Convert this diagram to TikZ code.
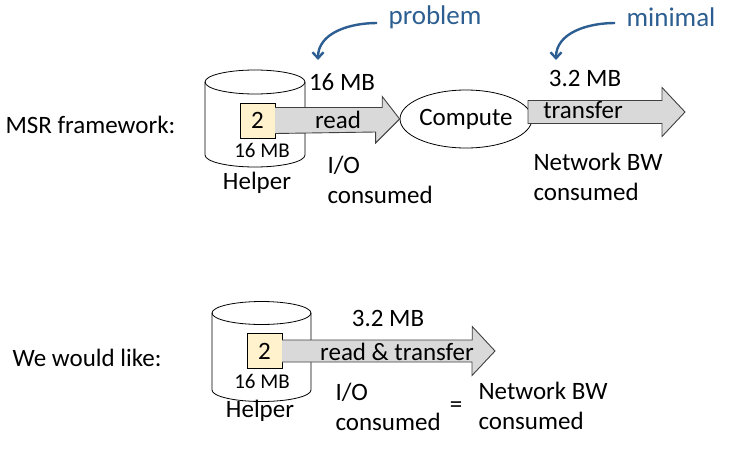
\documentclass[tikz,border=0pt]{standalone}
\usepackage{fontspec}
\setmainfont{Carlito}
\usetikzlibrary{shapes.geometric,arrows.meta}
\definecolor{noteblue}{RGB}{44,94,145}
\definecolor{boxfill}{RGB}{255,242,204}
\definecolor{pipefill}{RGB}{217,217,217}
\definecolor{pipeline}{RGB}{64,64,64}
\tikzset{
  big/.style={font=\fontsize{25}{30}\selectfont},
  small/.style={font=\fontsize{21}{24}\selectfont},
  notefont/.style={font=\fontsize{27}{30}\selectfont, text=noteblue},
  chunk/.style={draw, fill=boxfill, minimum size=35pt, inner sep=0pt, big},
  pipe/.style={draw=pipeline, fill=pipefill, line width=0.9pt, line join=miter},
  note/.style={draw=noteblue, line width=2.4pt, -{Straight Barb[length=6pt,width=11pt]}},
}
\begin{document}
\begin{tikzpicture}[x=1pt,y=-1pt,big]
      \useasboundingbox (0,0) rectangle (731,450);
      \node[anchor=west] (l1) at (2,125) {MSR framework:};
      \node[anchor=west] (l2) at (9,358) {We would like:};
      \begin{scope}[line width=0.8pt]
        \draw[fill=white] (205,82) -- (205,155)
          arc[start angle=180, end angle=360, x radius=50pt, y radius=12pt] -- (305,82);
        \draw (255,82) ellipse [x radius=50pt, y radius=12pt];
        \draw[fill=white] (212,313) -- (212,390)
          arc[start angle=180, end angle=360, x radius=49.5pt, y radius=11.5pt] -- (311,313);
        \draw (261.5,313) ellipse [x radius=49.5pt, y radius=11.5pt];
      \end{scope}
      \node[chunk] (b1) at (257.5,120.5) {2};
      \node[chunk] (b2) at (264.5,351) {2};
      \node[small] (s1) at (262,150) {16 MB};
      \node[small] (s2) at (262,381) {16 MB};
      \node (h1) at (257,183) {Helper};
      \node (h2) at (260,411) {Helper};
      \node[draw, ellipse, line width=0.8pt, minimum width=120pt, minimum height=58pt, inner sep=0pt] (c1) at (466,119) {Compute};
      \coordinate (t1) at (528,112);
      \coordinate (e1) at (685,112);
      \coordinate (e2) at (495,351);
      \draw[pipe] ([yshift=13pt]b1.east) -- ++(107pt,0pt) -- ++(0pt,11pt) -- (c1.west)
        -- ++(-24pt,-24pt) -- ++(0pt,11pt) -- ([yshift=-13pt]b1.east);
      \draw[pipe] ([yshift=11.5pt]t1) -- ++(134pt,0pt) -- ++(0pt,13pt) -- (e1)
        -- ++(-23pt,-24.5pt) -- ++(0pt,13pt) -- ([yshift=-11.5pt]t1) -- cycle;
      \draw[pipe] ([yshift=11pt]b2.east) -- ++(190pt,0pt) -- ++(0pt,13.5pt) -- (e2)
        -- ++(-23pt,-24.5pt) -- ++(0pt,13.5pt) -- ([yshift=-11pt]b2.east);
      \node (r1) at (338,120) {read};
      \node (r2) at (583,110) {transfer};
      \node (r3) at (397,352) {read \& transfer};
      \node (m1) at (342,82) {16 MB};
      \node (m2) at (585,78) {3.2 MB};
      \node (m3) at (388,318) {3.2 MB};
      \node[anchor=west, align=left] (i1) at (324,180) {I/O\\consumed};
      \node[anchor=west, align=left] (n1) at (530,177) {Network BW\\consumed};
      \node[anchor=west, align=left] (i2) at (332,407) {I/O\\consumed};
      \node (eq) at (456,407) {=};
      \node[anchor=west, align=left] (n2) at (475,406) {Network BW\\consumed};
      \node[notefont] (p) at (435,17) {problem};
      \node[notefont] (q) at (671,17) {minimal};
      \coordinate (p2) at (318,60);
      \coordinate (q2) at (556,60);
      \draw[note] (p.west) ++(-8pt,-6pt) to[out=180, in=90] (p2);
      \draw[note] (q.west) ++(-8pt,-6pt) to[out=180, in=90] (q2);
    \end{tikzpicture}
\end{document}
